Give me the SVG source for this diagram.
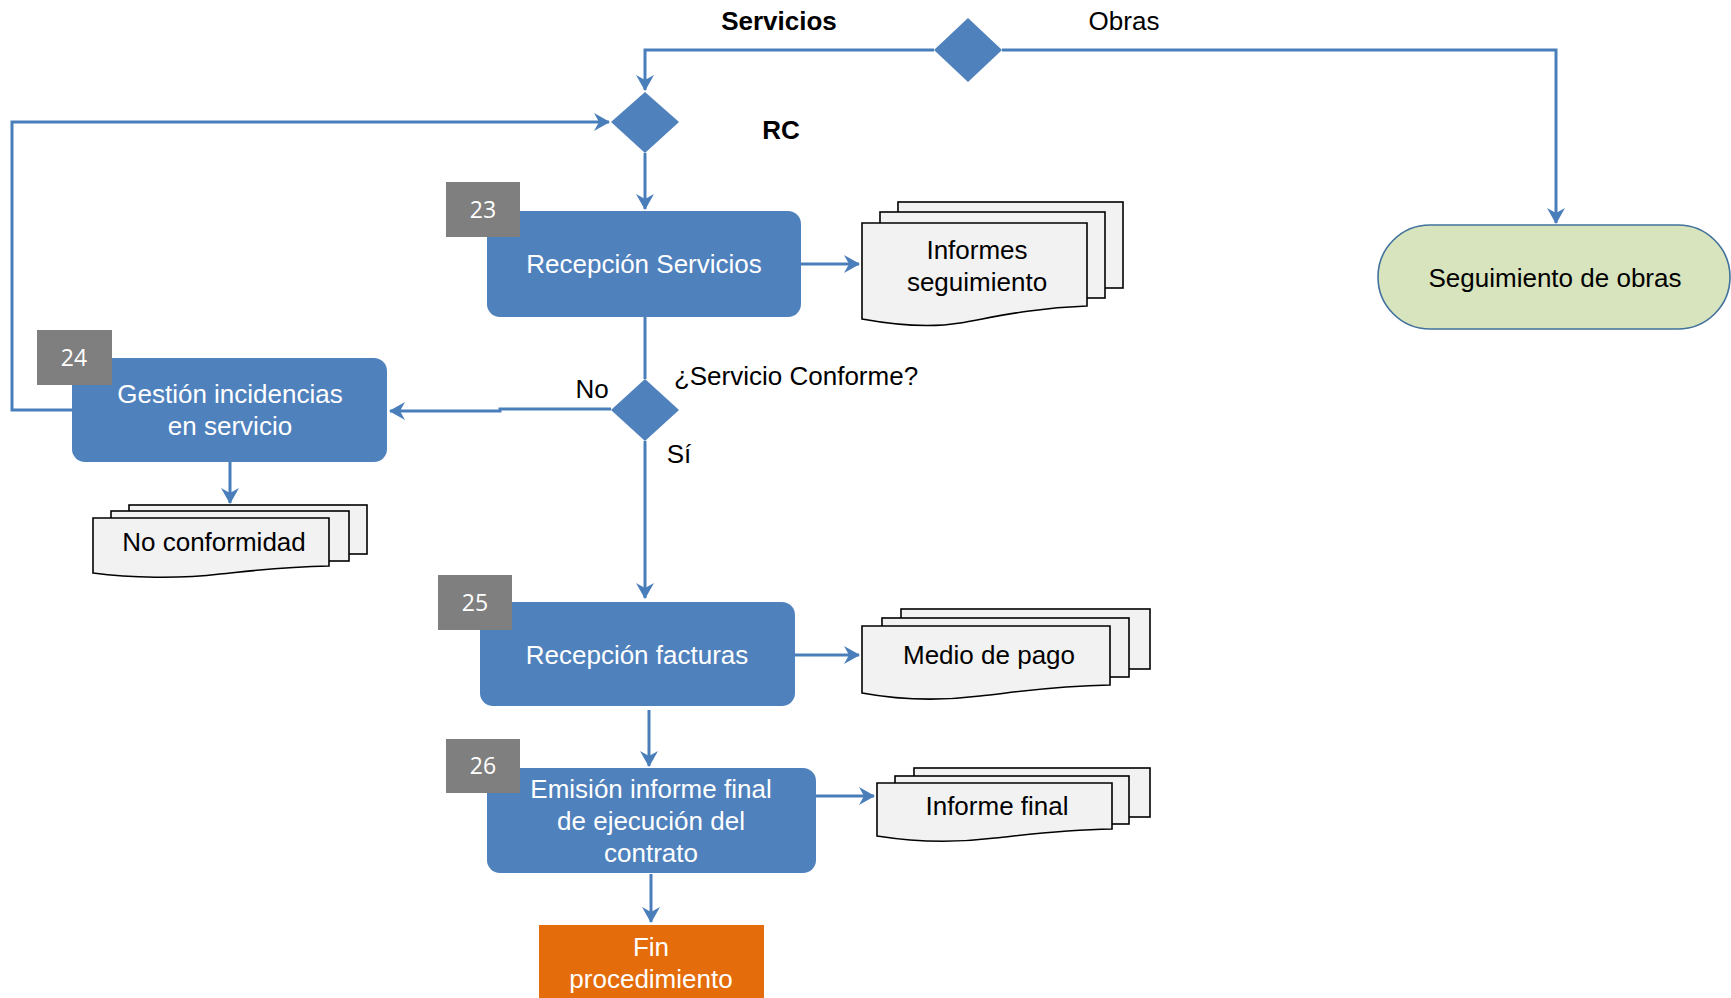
<svg xmlns="http://www.w3.org/2000/svg" width="1731" height="998" viewBox="0 0 1731 998">
<style>
.t{font-family:"Liberation Sans",Arial,sans-serif;font-size:26px;text-anchor:middle;fill:#000}
.b{font-weight:bold}
.w{fill:#fff}
.box{fill:#4f81bd}
.num{fill:#7f7f7f}
.numt{font-family:"Open Sans","Liberation Sans",sans-serif;font-size:23px;text-anchor:middle;fill:#fff}
.dia{fill:#4f81bd}
.doc{fill:#f2f2f2;stroke:#000;stroke-width:1.6}
.c{fill:none;stroke:#4a7ebb;stroke-width:3}
</style>
<defs>
<marker id="arr" viewBox="0 0 16 18" refX="15" refY="9" markerWidth="16" markerHeight="18" orient="auto" markerUnits="userSpaceOnUse">
<path d="M0,0 L16,9 L0,18 L5,9 z" fill="#4a7ebb"/>
</marker>
</defs>
<rect width="1731" height="998" fill="#fff"/>

<g id="connectors">
<path class="c" d="M934,50 H645 V90" marker-end="url(#arr)"/>
<path class="c" d="M1002,50 H1556 V223" marker-end="url(#arr)"/>
<path class="c" d="M72,410 H12 V122 H609" marker-end="url(#arr)"/>
<path class="c" d="M645,153 V209" marker-end="url(#arr)"/>
<path class="c" d="M801,264 H859" marker-end="url(#arr)"/>
<path class="c" d="M645,317 V379"/>
<path class="c" d="M611,409 H500 V411 H390" marker-end="url(#arr)"/>
<path class="c" d="M230,462 V503" marker-end="url(#arr)"/>
<path class="c" d="M645,441 V598" marker-end="url(#arr)"/>
<path class="c" d="M795,655 H859" marker-end="url(#arr)"/>
<path class="c" d="M649,710 V766" marker-end="url(#arr)"/>
<path class="c" d="M816,796 H874" marker-end="url(#arr)"/>
<path class="c" d="M651,874 V922" marker-end="url(#arr)"/>
</g>

<g id="d-top">
<polygon class="dia" points="968,18 1002,50 968,82 934,50"/>
<text class="t b" x="779" y="30">Servicios</text>
<text class="t" x="1124" y="30">Obras</text>
</g>

<g id="d-rc">
<polygon class="dia" points="645,92 679,122 645,153 611,122"/>
<text class="t b" x="781" y="139">RC</text>
</g>

<g id="seguimiento-obras">
<rect x="1378" y="225" width="352" height="104" rx="52" ry="52" fill="#d7e4bd" stroke="#41719c" stroke-width="1.6"/>
<text class="t" x="1555" y="287">Seguimiento de obras</text>
</g>

<g id="n23">
<rect class="box" x="487" y="211" width="314" height="106" rx="13"/>
<rect class="num" x="446" y="182" width="74" height="55"/>
<text class="numt" x="483" y="218">23</text>
<text class="t w" x="644" y="273">Recepción Servicios</text>
</g>

<g id="doc-informes">
<rect class="doc" x="898" y="202" width="225" height="86"/>
<rect class="doc" x="880" y="212" width="225" height="86"/>
<path class="doc" d="M862,223 H1087 V306 C1030,308 990,318 960,323 C930,328 895,325 862,319 Z"/>
<text class="t" x="977" y="259">Informes</text>
<text class="t" x="977" y="291">seguimiento</text>
</g>

<g id="d-conforme">
<polygon class="dia" points="645,379 679,410 645,441 611,410"/>
<text class="t" x="796" y="385">¿Servicio Conforme?</text>
<text class="t" x="592" y="398">No</text>
<text class="t" x="679" y="463">Sí</text>
</g>

<g id="n24">
<rect class="box" x="72" y="358" width="315" height="104" rx="13"/>
<rect class="num" x="37" y="330" width="75" height="55"/>
<text class="numt" x="74" y="366">24</text>
<text class="t w" x="230" y="403">Gestión incidencias</text>
<text class="t w" x="230" y="435">en servicio</text>
</g>

<g id="doc-noconf">
<rect class="doc" x="129" y="505" width="238" height="49"/>
<rect class="doc" x="111" y="511" width="238" height="50"/>
<path class="doc" d="M93,518 H329 V566 C280,567 250,571 220,574 C180,579 130,578 93,573 Z"/>
<text class="t" x="214" y="551">No conformidad</text>
</g>

<g id="n25">
<rect class="box" x="480" y="602" width="315" height="104" rx="13"/>
<rect class="num" x="438" y="575" width="74" height="55"/>
<text class="numt" x="475" y="611">25</text>
<text class="t w" x="637" y="664">Recepción facturas</text>
</g>

<g id="doc-pago">
<rect class="doc" x="901" y="609" width="249" height="60"/>
<rect class="doc" x="882" y="618" width="247" height="59"/>
<path class="doc" d="M862,626 H1110 V685 C1050,686 1010,693 980,696 C940,701 900,700 862,693 Z"/>
<text class="t" x="989" y="664">Medio de pago</text>
</g>

<g id="n26">
<rect class="box" x="487" y="768" width="329" height="105" rx="13"/>
<rect class="num" x="446" y="739" width="74" height="54"/>
<text class="numt" x="483" y="774">26</text>
<text class="t w" x="651" y="798">Emisión informe final</text>
<text class="t w" x="651" y="830">de ejecución del</text>
<text class="t w" x="651" y="862">contrato</text>
</g>

<g id="doc-final">
<rect class="doc" x="914" y="768" width="236" height="49"/>
<rect class="doc" x="895" y="776" width="234" height="48"/>
<path class="doc" d="M877,783 H1112 V829 C1060,830 1025,835 995,838 C955,843 915,842 877,836 Z"/>
<text class="t" x="997" y="815">Informe final</text>
</g>

<g id="fin">
<rect x="539" y="925" width="225" height="80" fill="#e46c0a"/>
<text class="t w" x="651" y="956">Fin</text>
<text class="t w" x="651" y="988">procedimiento</text>
</g>
</svg>
